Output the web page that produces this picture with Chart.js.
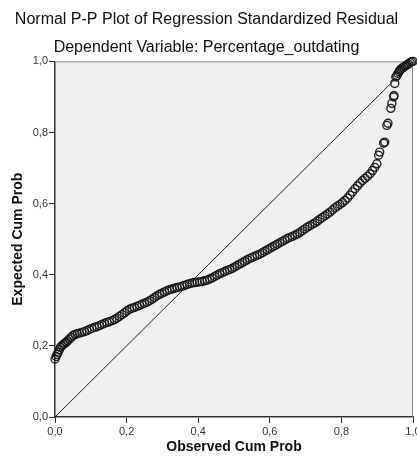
<!DOCTYPE html>
<html>
<head>
<meta charset="utf-8">
<script src="https://cdn.jsdelivr.net/npm/chart.js@4/dist/chart.umd.min.js"></script>
<style>
  html, body { margin: 0; padding: 0; background: #fff; overflow: hidden; }
  #wrap { width: 417px; height: 460px; overflow: hidden; }
  canvas { display: block; }
</style>
</head>
<body>
<div id="wrap"><canvas id="ppPlot" width="440" height="460"></canvas></div>
<script>
var chartTitle = "Normal P-P Plot of Regression Standardized Residual";
var chartSubtitle = "Dependent Variable: Percentage_outdating";
var xAxisTitle = "Observed Cum Prob";
var yAxisTitle = "Expected Cum Prob";
var tickLabels = ["0,0", "0,2", "0,4", "0,6", "0,8", "1,0"];

// observed vs expected cumulative probability of the residuals
var observedCumProb = [
  0.000, 0.003, 0.006, 0.009, 0.012, 0.015, 0.019, 0.023, 0.027, 0.031,
  0.035, 0.040, 0.045, 0.050, 0.056, 0.062, 0.068, 0.075, 0.082, 0.089,
  0.096, 0.103, 0.110, 0.117, 0.124, 0.131, 0.138, 0.145, 0.152, 0.159,
  0.166, 0.173, 0.180, 0.187, 0.194, 0.201, 0.208, 0.215, 0.222, 0.229,
  0.236, 0.243, 0.250, 0.257, 0.264, 0.271, 0.278, 0.285, 0.292, 0.299,
  0.306, 0.313, 0.320, 0.327, 0.334, 0.341, 0.348, 0.355, 0.362, 0.369,
  0.376, 0.383, 0.390, 0.397, 0.404, 0.411, 0.418, 0.425, 0.432, 0.439,
  0.446, 0.453, 0.460, 0.467, 0.474, 0.481, 0.488, 0.495, 0.502, 0.509,
  0.516, 0.523, 0.530, 0.537, 0.544, 0.551, 0.558, 0.565, 0.572, 0.579,
  0.586, 0.593, 0.600, 0.607, 0.614, 0.621, 0.628, 0.635, 0.642, 0.649,
  0.656, 0.663, 0.670, 0.677, 0.684, 0.691, 0.698, 0.705, 0.712, 0.719,
  0.726, 0.733, 0.740, 0.747, 0.754, 0.761, 0.768, 0.775, 0.782, 0.789,
  0.796, 0.803, 0.810, 0.817, 0.824, 0.831, 0.838, 0.845, 0.852, 0.859,
  0.866, 0.873, 0.880, 0.887, 0.893, 0.899, 0.904, 0.907, 0.918, 0.921,
  0.927, 0.930, 0.938, 0.941, 0.946, 0.947, 0.949, 0.952, 0.955, 0.958,
  0.961, 0.963, 0.966, 0.970, 0.974, 0.978, 0.983, 0.987, 0.992, 0.996,
  1.000
];
var expectedCumProb = [
  0.163, 0.170, 0.176, 0.182, 0.189, 0.196, 0.200, 0.204, 0.207, 0.210,
  0.214, 0.219, 0.224, 0.229, 0.232, 0.234, 0.236, 0.238, 0.240, 0.243,
  0.246, 0.249, 0.252, 0.254, 0.257, 0.260, 0.263, 0.266, 0.268, 0.271,
  0.274, 0.278, 0.283, 0.288, 0.293, 0.298, 0.303, 0.306, 0.308, 0.311,
  0.314, 0.317, 0.320, 0.323, 0.327, 0.331, 0.336, 0.341, 0.345, 0.348,
  0.352, 0.355, 0.358, 0.360, 0.362, 0.364, 0.366, 0.368, 0.370, 0.373,
  0.375, 0.377, 0.378, 0.379, 0.380, 0.381, 0.383, 0.385, 0.388, 0.391,
  0.395, 0.399, 0.403, 0.406, 0.409, 0.412, 0.415, 0.418, 0.422, 0.426,
  0.430, 0.434, 0.438, 0.442, 0.446, 0.449, 0.452, 0.455, 0.458, 0.462,
  0.466, 0.470, 0.474, 0.478, 0.482, 0.486, 0.490, 0.494, 0.498, 0.502,
  0.505, 0.508, 0.511, 0.515, 0.519, 0.524, 0.529, 0.534, 0.538, 0.542,
  0.546, 0.551, 0.556, 0.561, 0.566, 0.571, 0.576, 0.582, 0.588, 0.593,
  0.598, 0.603, 0.609, 0.616, 0.624, 0.633, 0.642, 0.650, 0.658, 0.665,
  0.671, 0.677, 0.684, 0.693, 0.702, 0.712, 0.736, 0.745, 0.770, 0.773,
  0.820, 0.826, 0.868, 0.882, 0.900, 0.904, 0.938, 0.956, 0.960, 0.966,
  0.971, 0.975, 0.978, 0.981, 0.984, 0.987, 0.990, 0.993, 0.997, 0.999,
  1.000
];

// 45 degree reference line
var refLineX = [0, 1];
var refLineY = [0, 1];

var points = observedCumProb.map((x, i) => ({ x: x, y: expectedCumProb[i] }));
var refLine = refLineX.map((x, i) => ({ x: x, y: refLineY[i] }));

// grey plot background plus the thin top/right frame
const plotFrame = {
  id: "plotFrame",
  beforeDraw(chart) {
    const { ctx, chartArea: a } = chart;
    ctx.save();
    ctx.fillStyle = "#f0f0f0";
    ctx.fillRect(a.left, a.top, a.right - a.left, a.bottom - a.top);
    ctx.restore();
  },
  beforeDatasetsDraw(chart) {
    const { ctx, chartArea: a } = chart;
    ctx.save();
    ctx.strokeStyle = "#8a8a8a";
    ctx.lineWidth = 1;
    ctx.beginPath();
    ctx.moveTo(a.left, a.top + 0.5);
    ctx.lineTo(a.right - 0.5, a.top + 0.5);
    ctx.lineTo(a.right - 0.5, a.bottom);
    ctx.stroke();
    ctx.restore();
  }
};

const font = "'Liberation Sans', Arial, sans-serif";

new Chart("ppPlot", {
  type: "scatter",
  data: {
    datasets: [{
      type: "line",
      data: refLine,
      borderColor: "#222",
      borderWidth: 1,
      pointRadius: 0,
      fill: false
    }, {
      data: points,
      pointRadius: 4,
      pointBorderWidth: 1.4,
      pointBorderColor: "rgba(20,20,20,0.92)",
      pointBackgroundColor: "rgba(0,0,0,0)",
      clip: false
    }]
  },
  plugins: [plotFrame],
  options: {
    responsive: false,
    animation: false,
    layout: { padding: { left: 0, right: 27, top: 0, bottom: 0 } },
    plugins: {
      legend: { display: false },
      tooltip: { enabled: false },
      title: {
        display: true,
        text: chartTitle,
        color: "#111",
        font: { family: font, size: 16, weight: "normal" },
        padding: { top: 10, bottom: 5 }
      },
      subtitle: {
        display: true,
        text: chartSubtitle,
        color: "#111",
        font: { family: font, size: 16, weight: "normal" },
        padding: { top: 4, bottom: 4 }
      }
    },
    scales: {
      x: {
        type: "linear",
        min: 0,
        max: 1,
        afterFit: (scale) => { scale.height = 43; },
        ticks: {
          stepSize: 0.2,
          padding: 2,
          color: "#333",
          font: { family: font, size: 11 },
          callback: (v, i) => tickLabels[i]
        },
        grid: { drawOnChartArea: false, drawTicks: true, tickLength: 6, color: "#333" },
        border: { color: "#333", width: 1.5 },
        title: {
          display: true,
          text: xAxisTitle,
          color: "#111",
          font: { family: font, size: 14, weight: "bold" },
          padding: { top: 0, bottom: 4 }
        }
      },
      y: {
        type: "linear",
        min: 0,
        max: 1,
        afterFit: (scale) => { scale.width = 55; },
        ticks: {
          stepSize: 0.2,
          padding: 1,
          color: "#333",
          font: { family: font, size: 11 },
          callback: (v, i) => tickLabels[i]
        },
        grid: { drawOnChartArea: false, drawTicks: true, tickLength: 6, color: "#333" },
        border: { color: "#333", width: 1.5 },
        title: {
          display: true,
          text: yAxisTitle,
          color: "#111",
          font: { family: font, size: 14, weight: "bold" },
          padding: { top: 10, bottom: 0 }
        }
      }
    }
  }
});
</script>
</body>
</html>
